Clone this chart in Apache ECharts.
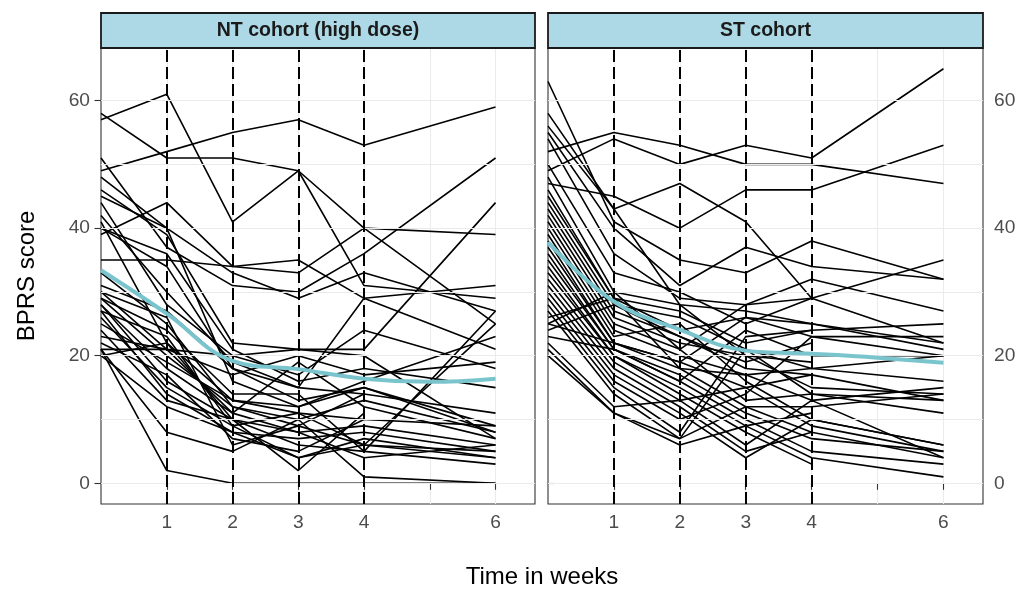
<!DOCTYPE html>
<html>
<head>
<meta charset="utf-8">
<title>BPRS score by cohort</title>
<script src="https://cdn.jsdelivr.net/npm/echarts@6/dist/echarts.min.js"></script>
<style>
  html, body { margin: 0; padding: 0; background: #fff; }
  #chart { width: 1019px; height: 590px; }
</style>
</head>
<body>
<div id="chart"></div>
<script>
// ---- data ----
const weeks = [0, 1, 2, 3, 4, 6];
const dashWeeks = [1, 2, 3, 4];
const xTickValues = [1, 2, 3, 4, 5, 6];
const xLabelValues = [1, 2, 3, 4, 6];
const yTickValues = [0, 20, 40, 60];
const yGridValues = [0, 10, 20, 30, 40, 50, 60];
const panelTitles = ['NT cohort (high dose)', 'ST cohort'];

// one row per subject: score at weeks 0,1,2,3,4,6 (null = dropped out)
const ntScores = [
  [57, 61, 41, 49, 40, 39],
  [49, 52, 55, 57, 53, 59],
  [58, 51, 51, 49, 31, 29],
  [51, 37, 31, 30, 36, 51],
  [39, 44, 34, 35, 29, 31],
  [35, 35, 34, 33, 40, 25],
  [48, 40, 33, 29, 33, 27],
  [46, 39, 22, 21, 21, 44],
  [45, 40, 16, 12, 16, 23],
  [44, 28, 20, 17, 24, 18],
  [42, 30, 19, 15, 14, 11],
  [41, 22, 13, 11, 10, 9],
  [40, 36, 21, 16, 18, 15],
  [33, 25, 12, 10, 13, 8],
  [31, 27, 18, 15, 29, 21],
  [30, 21, 17, 20, 17, 19],
  [29, 24, 14, 14, 5, 27],
  [29, 20, 12, 9, 6, 25],
  [28, 18, 11, 19, 12, 7],
  [28, 16, 10, 8, 9, 6],
  [27, 23, 9, 11, 6, 5],
  [27, 14, 8, 7, 8, 5],
  [26, 15, 9, 4, 7, 4],
  [25, 19, 13, 12, 15, 9],
  [24, 13, 10, 6, 5, 3],
  [23, 21, 11, 8, 4, 6],
  [22, 17, 7, 5, 10, null],
  [21, 21, 20, 21, 20, 7],
  [21, 8, 5, 10, 1, 0],
  [21, 2, 0, 0, 0, 0],
  [20, 12, 8, 4, 6, 4],
  [20, 22, 10, 2, 11, null],
  [30, 26, 6, 9, 14, null],
  [40, 34, 18, 13, 15, 8]
];

const stScores = [
  [52, 55, 53, 50, 50, 47],
  [49, 54, 50, 53, 51, 65],
  [47, 45, 40, 46, 46, 53],
  [63, 41, 35, 33, 38, 32],
  [56, 43, 47, 41, 29, 35],
  [55, 40, 31, 37, 34, 32],
  [54, 36, 29, 28, 32, 27],
  [50, 33, 30, 25, 29, 22],
  [48, 30, 28, 27, 25, 21],
  [46, 29, 27, 22, 24, 25],
  [45, 29, 24, 26, 23, 20],
  [44, 28, 26, 21, 18, 16],
  [43, 27, 23, 18, 17, 13],
  [42, 26, 22, 20, 15, 14],
  [41, 25, 21, 13, 14, 11],
  [40, 24, 20, 17, 13, 15],
  [39, 23, 25, 16, 10, 6],
  [38, 22, 19, 15, 9, 5],
  [37, 22, 18, 12, 8, 4],
  [36, 21, 17, 11, 7, 5],
  [35, 21, 16, 10, 5, 3],
  [34, 20, 15, 9, 4, 1],
  [33, 20, 14, 8, 3, null],
  [32, 19, 13, 6, 13, 4],
  [31, 18, 12, 5, 8, null],
  [30, 17, 11, 4, 10, 6],
  [29, 16, 10, 14, 23, 23],
  [28, 15, 8, 23, 24, null],
  [27, 14, 7, 21, 14, 13],
  [26, 29, 18, 17, 18, 20],
  [25, 30, 21, 28, 29, null],
  [25, 22, 19, 26, 25, 22],
  [24, 28, 23, 19, 22, null],
  [23, 21, 16, 24, 20, 20],
  [22, 12, 13, 15, 17, null],
  [21, 11, 7, 12, 12, 14],
  [20, 11, 6, 9, 11, null],
  [58, 43, 28, 20, 19, null]
];

// smoothed mean curve
const smoothWeeks = [0, 1, 2, 3, 4, 5, 6];
const ntSmooth = [33.4, 26.6, 19.2, 17.9, 16.4, 15.9, 16.4];
const stSmooth = [37.8, 28.5, 24.1, 20.8, 20.3, 19.7, 18.9];

// ---- layout ----
const panels = [
  { left: 101, width: 434, yPos: 'left' },
  { left: 548, width: 435, yPos: 'right' }
];
const panelTop = 48;
const panelHeight = 456;
const tickColor = '#333333';
const labelColor = '#4D4D4D';
const fontFamily = '"Liberation Sans", Arial, Helvetica, sans-serif';

const chart = echarts.init(document.getElementById('chart'), null, { renderer: 'canvas' });

const grids = panels.map(p => ({
  left: p.left, top: panelTop, width: p.width, height: panelHeight,
  show: true, backgroundColor: '#fff', borderColor: tickColor, borderWidth: 1.1,
  containLabel: false
}));

const xAxes = panels.map((p, i) => ({
  gridIndex: i, type: 'value', min: 0, max: 6.6, interval: 1,
  axisLine: { show: false },
  axisTick: { show: true, length: 6.5, customValues: xTickValues, lineStyle: { color: tickColor, width: 1.1 } },
  axisLabel: { customValues: xLabelValues, color: labelColor, fontSize: 19.2, fontFamily: fontFamily, margin: 9 },
  splitLine: { show: true, lineStyle: { color: '#EBEBEB', width: 1.1 } }
}));

const yAxes = panels.map((p, i) => ({
  gridIndex: i, type: 'value', min: -3.25, max: 68.25, position: p.yPos,
  axisLine: { show: false },
  axisTick: { show: true, length: 6.5, customValues: yTickValues, lineStyle: { color: tickColor, width: 1.1 } },
  axisLabel: { customValues: yTickValues, color: labelColor, fontSize: 19.2, fontFamily: fontFamily, margin: 11 },
  splitLine: { show: false }
}));

function panelSeries(scores, smooth, idx) {
  const out = [];
  // horizontal grid lines
  out.push({
    type: 'line', xAxisIndex: idx, yAxisIndex: idx, data: [], silent: true, z: 1,
    markLine: {
      silent: true, symbol: 'none', label: { show: false }, animation: false,
      lineStyle: { color: '#EBEBEB', width: 1.1, type: 'solid' },
      data: yGridValues.map(v => ({ yAxis: v }))
    }
  });
  // subject trajectories
  scores.forEach(s => {
    out.push({
      type: 'line', xAxisIndex: idx, yAxisIndex: idx, z: 3, silent: true,
      showSymbol: false, symbol: 'none',
      lineStyle: { color: '#000', width: 1.6 },
      data: weeks.map((w, k) => [w, s[k]])
    });
  });
  // dashed reference weeks
  out.push({
    type: 'line', xAxisIndex: idx, yAxisIndex: idx, data: [], silent: true, z: 4,
    markLine: {
      silent: true, symbol: 'none', label: { show: false }, animation: false,
      lineStyle: { color: '#000', width: 2, type: [12, 5] },
      data: dashWeeks.map(w => ({ xAxis: w }))
    }
  });
  // smoothed mean
  out.push({
    type: 'line', xAxisIndex: idx, yAxisIndex: idx, z: 5, silent: true,
    smooth: 0.4, showSymbol: false, symbol: 'none',
    lineStyle: { color: '#7AC5CD', width: 4 },
    data: smoothWeeks.map((w, k) => [w, smooth[k]])
  });
  return out;
}

const graphics = [];
panels.forEach((p, i) => {
  graphics.push({
    type: 'rect', z: 10,
    shape: { x: p.left, y: 13, width: p.width, height: 35 },
    style: { fill: '#ADD8E6', stroke: '#1A1A1A', lineWidth: 1.8 }
  });
  graphics.push({
    type: 'text', z: 11, x: p.left + p.width / 2, y: 30.5,
    style: {
      text: panelTitles[i], fill: '#1A1A1A', fontSize: 19.5, fontWeight: 'bold',
      fontFamily: fontFamily, align: 'center', verticalAlign: 'middle'
    }
  });
});
graphics.push({
  type: 'text', x: 542, y: 577,
  style: { text: 'Time in weeks', fill: '#000', fontSize: 24, fontFamily: fontFamily, align: 'center', verticalAlign: 'middle' }
});
graphics.push({
  type: 'text', x: 27, y: 276, rotation: Math.PI / 2,
  style: { text: 'BPRS score', fill: '#000', fontSize: 24, fontFamily: fontFamily, align: 'center', verticalAlign: 'middle' }
});

chart.setOption({
  animation: false,
  backgroundColor: '#fff',
  grid: grids,
  xAxis: xAxes,
  yAxis: yAxes,
  series: panelSeries(ntScores, ntSmooth, 0).concat(panelSeries(stScores, stSmooth, 1)),
  graphic: graphics
});
</script>
</body>
</html>
